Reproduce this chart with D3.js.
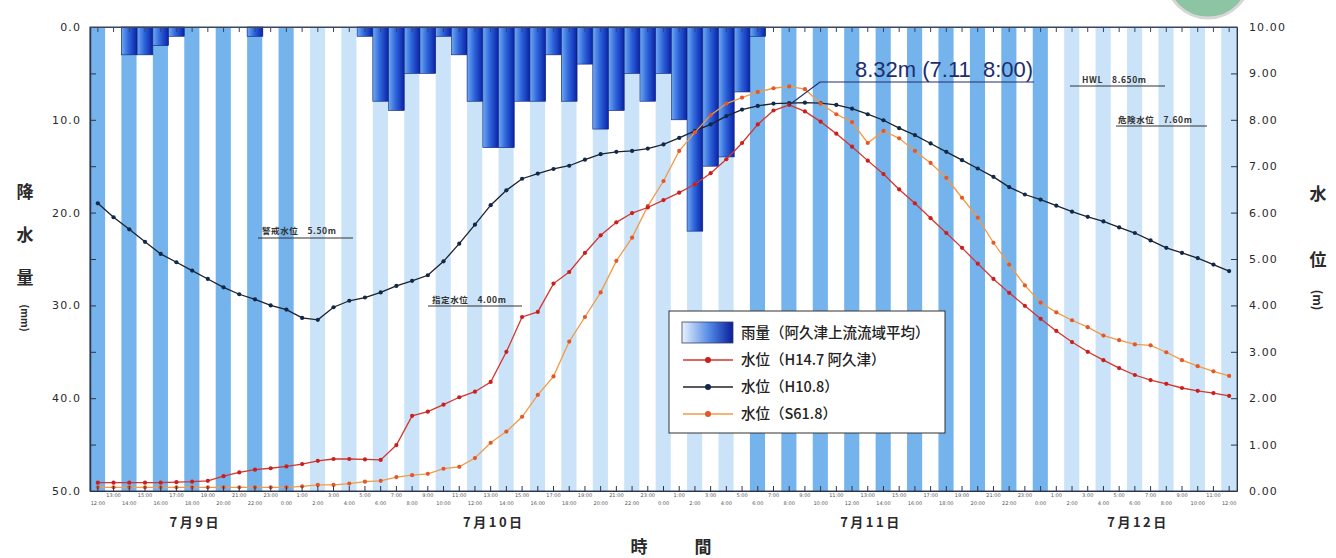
<!DOCTYPE html>
<html>
<head>
<meta charset="utf-8">
<script src="https://cdn.jsdelivr.net/npm/d3@7"></script>
<style>
  body { margin: 0; background: #fff; }
  svg { display: block; }
</style>
</head>
<body>
<svg id="chart"></svg>
<script>
// hourly time axis, 7/9 12:00 -> 7/12 12:00
const hours = [
  '12:00','13:00','14:00','15:00','16:00','17:00','18:00','19:00','20:00','21:00','22:00','23:00',
  '0:00','1:00','2:00','3:00','4:00','5:00','6:00','7:00','8:00','9:00','10:00','11:00',
  '12:00','13:00','14:00','15:00','16:00','17:00','18:00','19:00','20:00','21:00','22:00','23:00',
  '0:00','1:00','2:00','3:00','4:00','5:00','6:00','7:00','8:00','9:00','10:00','11:00',
  '12:00','13:00','14:00','15:00','16:00','17:00','18:00','19:00','20:00','21:00','22:00','23:00',
  '0:00','1:00','2:00','3:00','4:00','5:00','6:00','7:00','8:00','9:00','10:00','11:00','12:00'
];
const days = ['7月9日', '7月10日', '7月11日', '7月12日'];
const dayHourIndex = [6, 25, 49, 66];

// rainfall (mm/h), basin average upstream of Akutsu
const rain = [
  0, 0, 3, 3, 2, 1, 0, 0, 0, 0, 1, 0,
  0, 0, 0, 0, 0, 1, 8, 9, 5, 5, 1, 3,
  8, 13, 13, 8, 8, 3, 8, 4, 11, 9, 5, 8,
  5, 10, 22, 15, 14, 7, 1, 0, 0, 0, 0, 0,
  0, 0, 0, 0, 0, 0, 0, 0, 0, 0, 0, 0,
  0, 0, 0, 0, 0, 0, 0, 0, 0, 0, 0, 0, 0
];
// water levels (m)
const levelH14 = [
  0.18, 0.18, 0.18, 0.18, 0.18, 0.19, 0.20, 0.22, 0.32, 0.40, 0.46, 0.49,
  0.53, 0.58, 0.65, 0.69, 0.69, 0.68, 0.67, 0.99, 1.62, 1.71, 1.86, 2.02,
  2.14, 2.35, 3.00, 3.75, 3.86, 4.47, 4.72, 5.13, 5.51, 5.79, 5.99, 6.11,
  6.27, 6.43, 6.61, 6.85, 7.15, 7.50, 7.90, 8.20, 8.32, 8.18, 7.96, 7.70,
  7.42, 7.12, 6.83, 6.50, 6.20, 5.88, 5.56, 5.24, 4.90, 4.57, 4.27, 3.99,
  3.71, 3.45, 3.21, 3.00, 2.82, 2.65, 2.50, 2.39, 2.31, 2.22, 2.16, 2.11, 2.05
];
const levelH10 = [
  6.20, 5.90, 5.64, 5.37, 5.11, 4.93, 4.75, 4.57, 4.39, 4.24, 4.13, 4.00,
  3.91, 3.73, 3.69, 3.96, 4.10, 4.17, 4.28, 4.42, 4.53, 4.65, 4.95, 5.33,
  5.74, 6.16, 6.48, 6.73, 6.84, 6.94, 7.01, 7.14, 7.26, 7.31, 7.33, 7.38,
  7.47, 7.61, 7.76, 7.90, 8.08, 8.22, 8.30, 8.35, 8.36, 8.37, 8.36, 8.32,
  8.24, 8.12, 7.99, 7.82, 7.67, 7.49, 7.31, 7.13, 6.95, 6.77, 6.55, 6.39,
  6.28, 6.15, 6.02, 5.91, 5.81, 5.68, 5.56, 5.40, 5.24, 5.13, 5.02, 4.88, 4.74
];
const levelS61 = [
  0.08, 0.08, 0.08, 0.08, 0.08, 0.08, 0.08, 0.08, 0.08, 0.08, 0.08, 0.08,
  0.08, 0.10, 0.13, 0.13, 0.16, 0.20, 0.22, 0.30, 0.34, 0.37, 0.48, 0.52,
  0.71, 1.04, 1.28, 1.60, 2.07, 2.47, 3.22, 3.75, 4.28, 4.96, 5.46, 6.14,
  6.68, 7.33, 7.73, 8.10, 8.35, 8.48, 8.60, 8.68, 8.72, 8.66, 8.35, 8.12,
  7.95, 7.50, 7.76, 7.60, 7.33, 7.07, 6.75, 6.32, 5.89, 5.35, 4.88, 4.43,
  4.06, 3.85, 3.68, 3.53, 3.35, 3.25, 3.16, 3.14, 2.99, 2.82, 2.69, 2.58, 2.48
];
const peakIndex = 44, peakText = '8.32m (7.11\u00a0\u00a08:00)';
const rainTicks = [0, 5, 10, 15, 20, 25, 30, 35, 40, 45, 50];
const levelTicks = [0, 1, 2, 3, 4, 5, 6, 7, 8, 9, 10];
// background stripe shading (hour index ranges drawn darker)
const darkStripeRanges = [[0, 12], [42, 60]];
const legendLabels = ['雨量（阿久津上流流域平均）', '水位（H14.7 阿久津）', '水位（H10.8）', '水位（S61.8）'];

const svgDim = { w: 1336, h: 558 },
  plot = { l: 90, r: 1237, t: 27, b: 491 };
const $svg = d3.select('#chart').attr('width', svgDim.w).attr('height', svgDim.h);

const xScale = d3.scaleBand().domain(d3.range(hours.length)).range([plot.l, plot.r]).padding(0),
  bw = xScale.bandwidth(),
  xMid = (i) => xScale(i) + bw / 2,
  yRain = d3.scaleLinear().domain([0, 50]).range([plot.t, plot.b]),
  yLevel = d3.scaleLinear().domain([0, 10]).range([plot.b, plot.t]);

const defs = $svg.append('defs');
const grad = defs.append('linearGradient').attr('id', 'rainGrad');
grad.append('stop').attr('offset', '0%').attr('stop-color', '#6fa9ef');
grad.append('stop').attr('offset', '45%').attr('stop-color', '#2f66dc');
grad.append('stop').attr('offset', '100%').attr('stop-color', '#0a22a6');
const lgrad = defs.append('linearGradient').attr('id', 'legendGrad');
lgrad.append('stop').attr('offset', '0%').attr('stop-color', '#eaf3fd');
lgrad.append('stop').attr('offset', '55%').attr('stop-color', '#4f86e4');
lgrad.append('stop').attr('offset', '100%').attr('stop-color', '#0a1e9a');

// stripes
const isDark = (i) => darkStripeRanges.some((r) => i >= r[0] && i <= r[1]);
$svg.append('g')
  .selectAll('rect')
  .data(d3.range(hours.length).filter((i) => i % 2 === 0))
  .join('rect')
  .attr('x', (i) => xScale(i))
  .attr('y', plot.t)
  .attr('width', bw - 0.6)
  .attr('height', plot.b - plot.t)
  .attr('fill', (i) => isDark(i) ? '#74b3ec' : '#cae3f8');

// rain bars hanging from the top
$svg.append('g')
  .selectAll('rect')
  .data(rain.map((v, i) => [i, v]).filter((d) => d[1] > 0))
  .join('rect')
  .attr('x', (d) => xScale(d[0]))
  .attr('y', plot.t)
  .attr('width', bw)
  .attr('height', (d) => yRain(d[1]) - plot.t)
  .attr('fill', 'url(#rainGrad)')
  .attr('stroke', '#0c1f7a')
  .attr('stroke-width', 0.6);

// reference level labels
const refLabels = [
  { t: '警戒水位　5.50m', x: 262, y: 234, u: [258, 353, 238] },
  { t: '指定水位　4.00m', x: 432, y: 303, u: [428, 522, 306] },
  { t: 'HWL　8.650m', x: 1082, y: 83, u: [1070, 1165, 86] },
  { t: '危険水位　7.60m', x: 1118, y: 123, u: [1116, 1207, 126] }
];
const $ref = $svg.append('g');
refLabels.forEach((r) => {
  $ref.append('text').text(r.t)
    .attr('x', r.x).attr('y', r.y)
    .attr('font-family', '"Noto Sans CJK JP", sans-serif')
    .attr('font-size', 8.5).attr('font-weight', 'bold')
    .attr('letter-spacing', 0.6)
    .attr('fill', '#333');
  $ref.append('line')
    .attr('x1', r.u[0]).attr('x2', r.u[1]).attr('y1', r.u[2]).attr('y2', r.u[2])
    .attr('stroke', '#333').attr('stroke-width', 1);
});

// water level lines
const styleH14 = { line: '#d5352c', dot: '#c8201e' },
  styleH10 = { line: '#1e2228', dot: '#10284a' },
  styleS61 = { line: '#f39a44', dot: '#e4572a' };
const series = [
  Object.assign({ data: levelH10 }, styleH10),
  Object.assign({ data: levelS61 }, styleS61),
  Object.assign({ data: levelH14 }, styleH14)
];
const lineGen = d3.line().x((d, i) => xMid(i)).y((d) => yLevel(d));
series.forEach((s) => {
  const g = $svg.append('g');
  g.append('path').datum(s.data).attr('d', lineGen)
    .attr('fill', 'none').attr('stroke', s.line).attr('stroke-width', 1.3);
  g.selectAll('circle').data(s.data).join('circle')
    .attr('cx', (d, i) => xMid(i)).attr('cy', (d) => yLevel(d))
    .attr('r', 2.1).attr('fill', s.dot);
});

// peak annotation
const peakX = xMid(peakIndex), peakY = yLevel(levelH14[peakIndex]);
$svg.append('path')
  .attr('d', `M${peakX},${peakY}L820,82L1034,82`)
  .attr('fill', 'none').attr('stroke', '#1e2d6e').attr('stroke-width', 1.2);
$svg.append('text').text(peakText)
  .attr('x', 855).attr('y', 77)
  .attr('font-family', '"Liberation Sans", Arial, sans-serif')
  .attr('font-size', 22)
  .attr('fill', '#1e2d6e');

// frame
$svg.append('rect')
  .attr('x', plot.l).attr('y', plot.t)
  .attr('width', plot.r - plot.l).attr('height', plot.b - plot.t)
  .attr('fill', 'none').attr('stroke', '#3a4560').attr('stroke-width', 1);

const numFont = (sel) => sel
  .attr('font-family', '"DejaVu Sans", sans-serif')
  .attr('font-size', 11)
  .attr('letter-spacing', 1.1)
  .attr('fill', '#2a2a2a');

// left axis (rain)
const $left = $svg.append('g')
  .attr('transform', `translate(${plot.l},0)`)
  .call(d3.axisLeft(yRain).tickValues(rainTicks)
    .tickFormat((d) => d % 10 === 0 ? d.toFixed(1) : '')
    .tickSizeInner(-6).tickSizeOuter(0).tickPadding(9));
$left.select('.domain').attr('stroke', '#2b3550').attr('stroke-width', 1.5);
$left.selectAll('line').attr('stroke', '#2b3550');
$left.selectAll('text').call(numFont);

// right axis (level)
const $right = $svg.append('g')
  .attr('transform', `translate(${plot.r},0)`)
  .call(d3.axisRight(yLevel).tickValues(levelTicks)
    .tickFormat(d3.format('.2f'))
    .tickSizeInner(-6).tickSizeOuter(0).tickPadding(12));
$right.select('.domain').attr('stroke', '#2b3550');
$right.selectAll('line').attr('stroke', '#2b3550');
$right.selectAll('text').call(numFont);

// bottom axis: hourly ticks, labels in two staggered rows
const $bottom = $svg.append('g')
  .attr('transform', `translate(0,${plot.b})`)
  .call(d3.axisBottom(xScale).tickFormat((i) => hours[i])
    .tickSizeInner(-5).tickSizeOuter(0).tickPadding(0));
$bottom.select('.domain').attr('stroke', '#2b3550');
$bottom.selectAll('line').attr('stroke', '#2b3550');
$bottom.selectAll('text')
  .attr('y', (i) => i % 2 === 0 ? 14 : 6)
  .attr('dy', 0)
  .attr('font-family', '"DejaVu Sans", sans-serif')
  .attr('font-size', 5)
  .attr('fill', '#555');

// top ticks
const $top = $svg.append('g')
  .attr('transform', `translate(0,${plot.t})`)
  .call(d3.axisTop(xScale).tickFormat('').tickSizeInner(-5).tickSizeOuter(0));
$top.select('.domain').attr('stroke', '#3a4560');
$top.selectAll('line').attr('stroke', '#3a4560');

// day labels
$svg.append('g')
  .selectAll('text')
  .data(days)
  .join('text')
  .text((d) => d)
  .attr('x', (d, i) => xScale(dayHourIndex[i]) + bw * 0.7)
  .attr('y', 527)
  .attr('text-anchor', 'middle')
  .attr('font-family', '"Noto Sans CJK JP", sans-serif')
  .attr('font-size', 13)
  .attr('font-weight', 'bold')
  .attr('letter-spacing', 2.5)
  .attr('fill', '#2a2a2a');

// axis titles
const cjk = (sel, size) => sel
  .attr('font-family', '"Noto Sans CJK JP", sans-serif')
  .attr('font-size', size)
  .attr('font-weight', 'bold')
  .attr('text-anchor', 'middle')
  .attr('fill', '#2a2a2a');
[['降', 198], ['水', 241], ['量', 284]].forEach((d) => {
  $svg.append('text').text(d[0]).attr('x', 25).attr('y', d[1]).call(cjk, 17);
});
$svg.append('text').text('(mm)')
  .attr('transform', 'translate(21,318) rotate(90)')
  .call(cjk, 10);
[['水', 200], ['位', 266]].forEach((d) => {
  $svg.append('text').text(d[0]).attr('x', 1318).attr('y', d[1]).call(cjk, 17);
});
$svg.append('text').text('(m)')
  .attr('transform', 'translate(1313,300) rotate(90)')
  .call(cjk, 12);
[['時', 639], ['間', 703]].forEach((d) => {
  $svg.append('text').text(d[0]).attr('x', d[1]).attr('y', 553).call(cjk, 17);
});

// legend
const $legend = $svg.append('g').attr('transform', 'translate(669,311)');
$legend.append('rect')
  .attr('width', 276).attr('height', 122)
  .attr('fill', '#fff').attr('stroke', '#333').attr('stroke-width', 1);
$legend.append('rect')
  .attr('x', 13).attr('y', 11).attr('width', 51).attr('height', 21)
  .attr('fill', 'url(#legendGrad)').attr('stroke', '#34406a').attr('stroke-width', 0.8);
[styleH14, styleH10, styleS61].forEach((s, k) => {
  const y = 49 + k * 27;
  $legend.append('line')
    .attr('x1', 14).attr('x2', 64).attr('y1', y).attr('y2', y)
    .attr('stroke', s.line).attr('stroke-width', 1.3);
  $legend.append('circle').attr('cx', 39).attr('cy', y).attr('r', 3).attr('fill', s.dot);
});
$legend.selectAll('text.lab')
  .data(legendLabels)
  .join('text')
  .attr('class', 'lab')
  .text((d) => d)
  .attr('x', 72)
  .attr('y', (d, i) => 27 + i * 27)
  .attr('font-family', '"Noto Sans CJK JP", sans-serif')
  .attr('font-size', 14.5)
  .attr('font-weight', 500)
  .attr('fill', '#222');

// green badge at top right
$svg.append('circle')
  .attr('cx', 1208).attr('cy', -24).attr('r', 42)
  .attr('fill', '#8cc4a4').attr('stroke', '#d6d6d6').attr('stroke-width', 3);
</script>
</body>
</html>
